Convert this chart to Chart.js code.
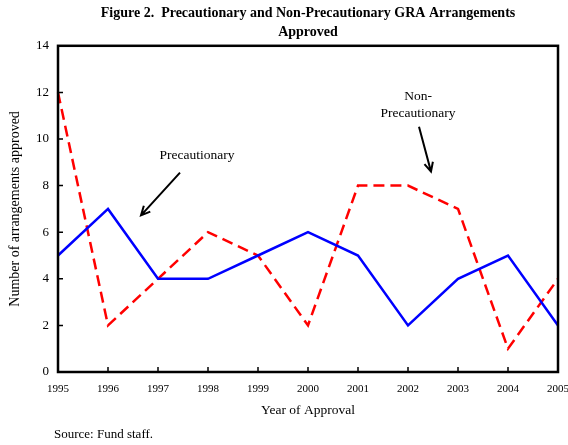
<!DOCTYPE html>
<html>
<head>
<meta charset="utf-8">
<script src="https://cdn.jsdelivr.net/npm/chart.js@4"></script>
<style>
  html, body { margin: 0; padding: 0; background: #fff; }
  #wrap { width: 568px; height: 445px; }
</style>
</head>
<body>
<div id="wrap"><canvas id="chart" width="568" height="445"></canvas></div>
<script>
// data
const years = [1995, 1996, 1997, 1998, 1999, 2000, 2001, 2002, 2003, 2004, 2005];
const precautionary = [5, 7, 4, 4, 5, 6, 5, 2, 4, 5, 2];
const nonPrecautionary = [12, 2, 4, 6, 5, 2, 8, 8, 7, 1, 4];
const yTicks = [0, 2, 4, 6, 8, 10, 12, 14];

const SERIF = "'Liberation Serif', 'Times New Roman', serif";

function points(values) {
    return years.map((yr, i) => ({ x: yr, y: values[i] }));
}

// labels + arrows pointing at the lines, placed in data units
const notes = [
    { lines: ["Precautionary"], x: 1997.78, y: 9.29, arrow: [1997.44, 8.56, 1996.66, 6.72] },
    { lines: ["Non-", "Precautionary"], x: 2002.2, y: 11.82, arrow: [2002.22, 10.53, 2002.46, 8.6] }
];

const framePlugin = {
    id: "frame",
    afterDraw(chart) {
        const ctx = chart.ctx;
        const a = chart.chartArea;
        const xs = chart.scales.x, ys = chart.scales.y;
        ctx.save();

        // inward tick marks
        ctx.strokeStyle = "#000";
        ctx.lineWidth = 1.5;
        ctx.beginPath();
        for (const yr of years) {
            const px = xs.getPixelForValue(yr);
            ctx.moveTo(px, a.bottom);
            ctx.lineTo(px, a.bottom - 5);
        }
        for (const t of yTicks) {
            const py = ys.getPixelForValue(t);
            ctx.moveTo(a.left, py);
            ctx.lineTo(a.left + 5, py);
        }
        ctx.stroke();

        // box round the plot
        ctx.lineWidth = 2.5;
        ctx.strokeRect(a.left, a.top, a.right - a.left, a.bottom - a.top);

        // annotations
        ctx.fillStyle = "#000";
        ctx.font = "13.5px " + SERIF;
        ctx.textAlign = "center";
        ctx.textBaseline = "middle";
        for (const n of notes) {
            const cx = xs.getPixelForValue(n.x);
            let cy = ys.getPixelForValue(n.y);
            for (const line of n.lines) {
                ctx.fillText(line, cx, cy);
                cy += 17;
            }
            const x1 = xs.getPixelForValue(n.arrow[0]), y1 = ys.getPixelForValue(n.arrow[1]);
            const x2 = xs.getPixelForValue(n.arrow[2]), y2 = ys.getPixelForValue(n.arrow[3]);
            ctx.lineWidth = 2;
            ctx.beginPath();
            ctx.moveTo(x1, y1);
            ctx.lineTo(x2, y2);
            const ang = Math.atan2(y2 - y1, x2 - x1);
            const h = 10;
            ctx.moveTo(x2 - h * Math.cos(ang - 0.45), y2 - h * Math.sin(ang - 0.45));
            ctx.lineTo(x2, y2);
            ctx.lineTo(x2 - h * Math.cos(ang + 0.45), y2 - h * Math.sin(ang + 0.45));
            ctx.stroke();
        }

        // source line
        ctx.font = "13px " + SERIF;
        ctx.textAlign = "left";
        ctx.fillText("Source: Fund staff.", 54, 435);
        ctx.restore();
    }
};

new Chart(document.getElementById("chart"), {
    type: "line",
    data: {
        datasets: [
            {
                label: "Precautionary",
                data: points(precautionary),
                borderColor: "#0000ff",
                borderWidth: 2.5,
                pointRadius: 0,
                tension: 0
            },
            {
                label: "Non-Precautionary",
                data: points(nonPrecautionary),
                borderColor: "#ff0000",
                borderWidth: 2.5,
                borderDash: [11, 6],
                pointRadius: 0,
                tension: 0
            }
        ]
    },
    options: {
        responsive: false,
        animation: false,
        clip: false,
        layout: { padding: { top: 0, right: 10, bottom: 0, left: 0 } },
        plugins: {
            legend: { display: false },
            tooltip: { enabled: false },
            title: {
                display: true,
                fullSize: false,
                text: ["Figure 2.  Precautionary and Non-Precautionary GRA Arrangements", "Approved"],
                color: "#000",
                font: { family: SERIF, size: 14, weight: "bold", lineHeight: 1.35 },
                padding: { top: 4, bottom: 4 }
            }
        },
        scales: {
            x: {
                type: "linear",
                min: 1995,
                max: 2005,
                afterFit(scale) {
                    scale.height = 73;
                    scale.paddingLeft = 0;
                    scale.paddingRight = 0;
                },
                afterBuildTicks(scale) { scale.ticks = years.map(v => ({ value: v })); },
                grid: { display: false, drawTicks: false },
                border: { display: false },
                ticks: {
                    color: "#000",
                    font: { family: SERIF, size: 11 },
                    padding: 11,
                    maxRotation: 0,
                    autoSkip: false,
                    callback: v => String(v)
                },
                title: {
                    display: true,
                    text: "Year of Approval",
                    color: "#000",
                    font: { family: SERIF, size: 13.5 },
                    padding: { top: 0, bottom: 26 }
                }
            },
            y: {
                min: 0,
                max: 14,
                afterFit(scale) { scale.width = 58; },
                afterBuildTicks(scale) { scale.ticks = yTicks.map(v => ({ value: v })); },
                grid: { display: false, drawTicks: false },
                border: { display: false },
                ticks: {
                    color: "#000",
                    font: { family: SERIF, size: 13 },
                    padding: 9
                },
                title: {
                    display: true,
                    text: "Number of arrangements approved",
                    color: "#000",
                    font: { family: SERIF, size: 14 },
                    padding: { top: 7, bottom: 0 }
                }
            }
        }
    },
    plugins: [framePlugin]
});
</script>
</body>
</html>
